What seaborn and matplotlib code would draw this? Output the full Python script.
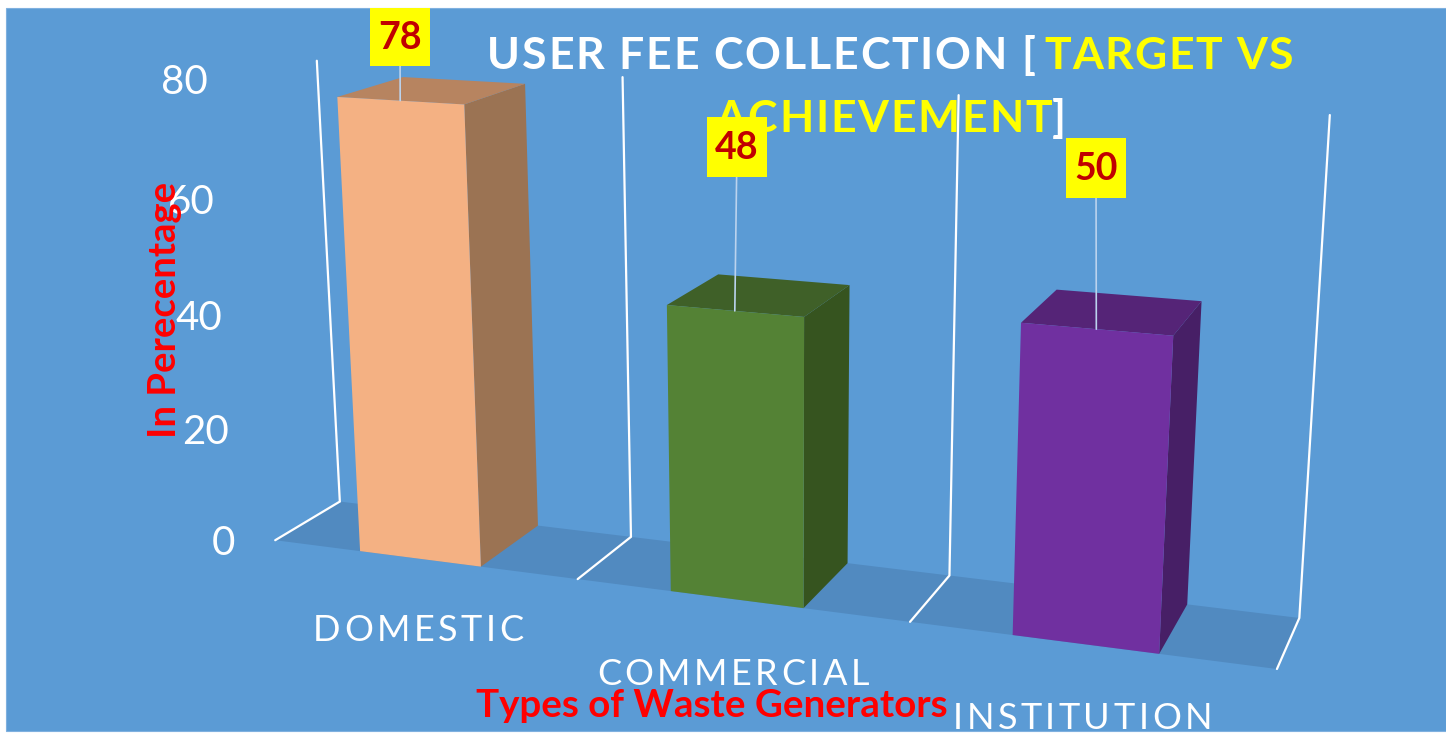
import numpy as np
import pandas as pd
import matplotlib
matplotlib.use("Agg")
import matplotlib.pyplot as plt
import seaborn as sns
from matplotlib.patches import Polygon, Rectangle
from matplotlib.text import Text
from matplotlib.transforms import Transform, Bbox, IdentityTransform

categories = ["DOMESTIC", "COMMERCIAL", "INSTITUTION"]
values = [78, 48, 50]
y_ticks = [0, 20, 40, 60, 80]
front_colors = ["#F4B183", "#548235", "#7030A0"]
side_colors = ["#9B7353", "#36541F", "#471F66"]
top_colors = ["#B78460", "#3F6028", "#552477"]

PANEL = "#5B9BD5"
FLOOR = "#518AC0"
BAR_WIDTH = 0.4
LEFT = -0.49

# Camera calibration: model point (category, value, depth) -> image pixel
calib = [
    (LEFT, 0, 0, 273, 540), (LEFT + 1, 0, 0, 575, 578), (LEFT + 2, 0, 0, 907, 623), (LEFT + 3, 0, 0, 1275, 670),
    (LEFT, 0, 1, 341, 501), (LEFT + 1, 0, 1, 631, 535), (LEFT + 2, 0, 1, 947, 575), (LEFT + 3, 0, 1, 1298, 617),
    (LEFT, 80, 1, 318, 60), (LEFT + 1, 80, 1, 622, 76), (LEFT + 2, 80, 1, 958, 93), (LEFT + 3, 80, 1, 1327, 113),
    (-0.2, 78, 0, 339, 98), (0.2, 78, 0, 465, 105), (0.2, 0, 0, 481, 566), (-0.2, 0, 0, 361, 550),
    (0.8, 48, 0, 668, 305), (1.2, 48, 0, 804, 316), (1.2, 0, 0, 804, 608), (0.8, 0, 0, 671, 592),
    (1.8, 50, 0, 1023, 322), (2.2, 50, 0, 1173, 335), (2.2, 0, 0, 1160, 654), (1.8, 0, 0, 1015, 636),
    (0.2, 78, 1, 527, 86), (0.2, 0, 1, 539, 524), (-0.2, 78, 1, 395, 80),
    (1.2, 48, 1, 851, 285), (1.2, 0, 1, 849, 566), (0.8, 48, 1, 722, 275),
    (2.2, 50, 1, 1201, 301), (2.2, 0, 1, 1188, 607), (1.8, 50, 1, 1060, 290),
]


def fit_camera(rows):
    A, b = [], []
    for x, y, z, u, v in rows:
        A.append([x, y, z, 1, 0, 0, 0, 0, -u * x, -u * y, -u * z])
        A.append([0, 0, 0, 0, x, y, z, 1, -v * x, -v * y, -v * z])
        b += [u, v]
    p = np.linalg.lstsq(np.array(A, float), np.array(b, float), rcond=None)[0]
    return np.append(p, 1.0).reshape(3, 4)


CAM = fit_camera(calib)


def project(x, y, z):
    h = CAM @ np.array([x, y, z, 1.0])
    return h[0] / h[2], h[1] / h[2]


class FrontPlane(Transform):
    """Perspective of the chart's (category, value) plane at depth 0."""
    input_dims = 2
    output_dims = 2
    is_affine = False

    def transform_non_affine(self, values):
        pts = np.asarray(values, float)
        h = np.column_stack([pts[:, 0], pts[:, 1], np.zeros(len(pts)), np.ones(len(pts))]) @ CAM.T
        return h[:, :2] / h[:, 2:3]


class SpacedText(Text):
    """One text object whose letters are drawn with extra tracking (pixels)."""

    def __init__(self, *args, tracking=0, **kwargs):
        super().__init__(*args, **kwargs)
        self.tracking = tracking

    def get_window_extent(self, renderer=None, dpi=None):
        bb = super().get_window_extent(renderer, dpi)
        return Bbox([[bb.x0, bb.y0], [bb.x1 + self.tracking * (len(self.get_text()) - 1), bb.y1]])

    def draw(self, renderer):
        s = self.get_text()
        x0, y0 = self.get_transform().transform(self.get_position())
        fp = self.get_fontproperties()
        bar = Text(0, 0, "|", fontproperties=fp, figure=self.figure).get_window_extent(renderer).width
        for i, ch in enumerate(s):
            adv = 0
            if i:
                t = Text(0, 0, s[:i] + "|", fontproperties=fp, figure=self.figure)
                adv = t.get_window_extent(renderer).width - bar
            g = Text(x0 + adv + i * self.tracking, y0, ch, color=self.get_color(),
                     fontproperties=fp, va="baseline", ha="left", figure=self.figure)
            g.set_transform(IdentityTransform())
            g.draw(renderer)


sns.set_theme(style="white")
df = pd.DataFrame({"Type": categories, "Value": values})

fig = plt.figure(figsize=(14.46, 7.33), dpi=100, facecolor="white")
ax = fig.add_axes([0, 0, 1, 1])
sns.barplot(data=df, x="Type", y="Value", hue="Type", palette=front_colors, width=BAR_WIDTH,
            dodge=False, legend=False, saturation=1, ax=ax)
ax.set_xlim(0, 1446)
ax.set_ylim(733, 0)
ax.set_xlabel("")
ax.set_ylabel("")
ax.axis("off")

ax.add_patch(Rectangle((6, 8), 1440, 723, fc=PANEL, ec="#7FB0DF", lw=0.8, zorder=0))

# floor
ax.add_patch(Polygon([project(LEFT, 0, 0), project(LEFT + 3, 0, 0), project(LEFT + 3, 0, 1), project(LEFT, 0, 1)],
                     fc=FLOOR, ec="none", zorder=1))
# gridlines
for k in range(4):
    xs = LEFT + k
    pts = np.array([project(xs, 0, 0), project(xs, 0, 1), project(xs, y_ticks[-1], 1)])
    ax.plot(pts[:, 0], pts[:, 1], color="white", lw=1.6, zorder=2, solid_joinstyle="miter")

# bars: front faces are seaborn's own bars seen through the perspective
plane = FrontPlane() + ax.transData
for i, (bar, val) in enumerate(zip(ax.patches[:3], values)):
    x0, x1 = i - BAR_WIDTH / 2, i + BAR_WIDTH / 2
    ax.add_patch(Polygon([project(x1, 0, 0), project(x1, val, 0), project(x1, val, 1), project(x1, 0, 1)],
                         fc=side_colors[i], ec="none", zorder=3))
    ax.add_patch(Polygon([project(x0, val, 0), project(x1, val, 0), project(x1, val, 1), project(x0, val, 1)],
                         fc=top_colors[i], ec="none", zorder=3))
    bar.set_transform(plane)
    bar.set_edgecolor("none")
    bar.set_linewidth(0)
    bar.set_zorder(4)
    bar.set_clip_on(False)

# value labels
label_centers = [(400, 37), (737, 147), (1096, 168)]
for i, val in enumerate(values):
    cx, cy = label_centers[i]
    ex, ey = project(i, val, 0)
    ax.plot([cx, ex], [cy, ey], color="#BBD3EE", lw=1.2, zorder=5)
    ax.add_patch(Rectangle((cx - 30, cy - 30 if i else 8), 60, 60 if i else 58, fc="#FFFF00", ec="none", zorder=7))
    ax.text(cx, cy + 1, str(val), color="#C00000", fontsize=27, fontweight="bold", family="Lato",
            ha="center", va="center", zorder=8)

# y tick labels
for v in y_ticks:
    px, py = project(LEFT, v, 0)
    ax.text(px - 40, py + 3, str(v), color="white", fontsize=29, family="Lato", fontweight="normal",
            ha="right", va="center", zorder=6)


def spaced(x, y, s, color, size, weight, tracking, z=6):
    t = SpacedText(x, y, s, tracking=tracking, color=color, fontsize=size, fontweight=weight,
                   family="Lato", ha="left", va="baseline", transform=ax.transData, zorder=z)
    ax.add_artist(t)
    return t


# x category labels
label_xy = [(313, 641), (597, 685), (953, 729)]
for name, (lx, ly) in zip(categories, label_xy):
    spaced(lx, ly, name, "white", 26, "normal", 3.5)

# title in colored segments
spaced(487, 69, "USER FEE COLLECTION [", "white", 32, "bold", 1.8)
spaced(1044, 69, "TARGET VS", "#FFFF00", 32, "bold", 1.5)
spaced(715, 132, "ACHIEVEMENT", "#FFFF00", 32, "bold", 1.8)
spaced(1052, 132, "]", "white", 32, "bold", 1.8)

# axis titles
ax.text(165, 310, "In Perecentage", color="#FF0000", fontsize=27.5, fontweight="bold", family="Lato",
        rotation=90, ha="center", va="center", zorder=9)
ax.text(712, 706, "Types of Waste Generators", color="#FF0000", fontsize=27.7, fontweight="bold", family="Lato",
        ha="center", va="center", zorder=9)

fig.savefig("out.png", dpi=100, facecolor="white")
